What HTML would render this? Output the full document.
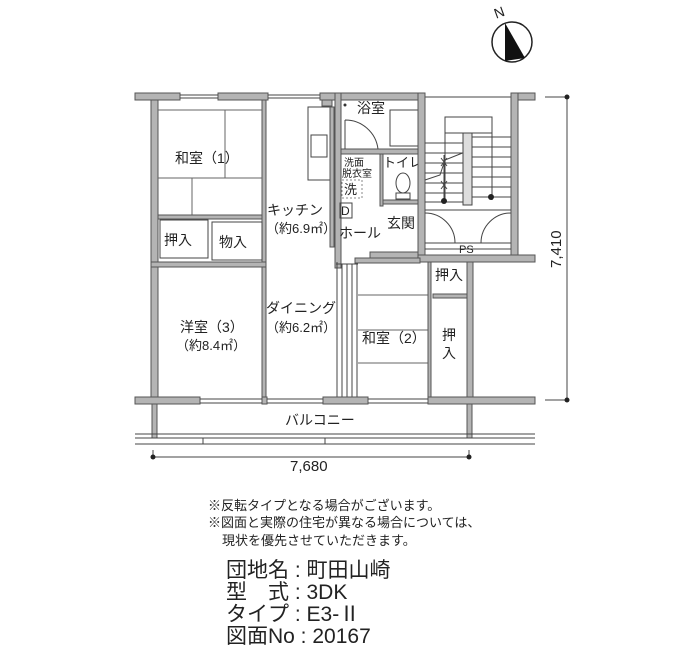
<!DOCTYPE html>
<html><head><meta charset="utf-8"><style>
html,body{margin:0;padding:0;background:#fff;}
svg{display:block;}
text{font-family:"Liberation Sans","Noto Sans CJK JP",sans-serif;fill:#222;}
.w{fill:#b4b4b4;stroke:#555;stroke-width:1;}
.l{stroke:#444;stroke-width:1;fill:none;}
.t{stroke:#666;stroke-width:1;fill:none;}
</style></head><body>
<svg width="700" height="650" viewBox="0 0 700 650" xmlns="http://www.w3.org/2000/svg">
<!-- compass -->
<text x="494" y="17" font-size="14" transform="rotate(-20 500 12)">N</text>
<circle cx="512" cy="42" r="20" fill="none" stroke="#222" stroke-width="1.5"/>
<polygon points="505,23 505,61 525,58" fill="#111"/>

<!-- top wall -->
<rect class="w" x="135" y="93" width="45" height="7"/>
<rect class="w" x="218" y="93" width="50" height="7"/>
<rect class="w" x="320" y="93" width="100" height="7"/>
<rect class="w" x="511" y="93" width="24" height="7"/>
<line class="l" x1="180" y1="95" x2="218" y2="95"/><line class="l" x1="180" y1="98" x2="218" y2="98"/>
<line class="l" x1="268" y1="95" x2="320" y2="95"/><line class="l" x1="268" y1="98" x2="320" y2="98"/>
<line class="l" x1="425" y1="97" x2="511" y2="97"/>
<rect class="w" x="151" y="100" width="7" height="297"/>
<rect class="w" x="262" y="100" width="4" height="300"/>
<line class="t" x1="158" y1="110" x2="262" y2="110"/>
<line class="t" x1="225" y1="110" x2="225" y2="178"/>
<line class="t" x1="158" y1="178" x2="262" y2="178"/>
<line class="t" x1="192" y1="178" x2="192" y2="215"/>
<rect class="w" x="158" y="215" width="104" height="4"/>
<rect class="l" x="160" y="220" width="48" height="38"/>
<rect class="l" x="212" y="222" width="50" height="38"/>
<text x="175" y="163" font-size="14">和室（1）</text>
<text x="164" y="245" font-size="14">押入</text>
<text x="219" y="247" font-size="14">物入</text>
<rect class="w" x="151" y="262" width="115" height="5"/>
<rect class="l" x="308" y="107" width="22" height="73"/>
<rect class="l" x="311" y="135" width="16" height="22"/>
<rect class="w" x="322" y="100" width="10" height="6"/>
<rect class="w" x="330" y="107" width="4" height="140"/>
<text x="267" y="215" font-size="14">キッチン</text>
<text x="266" y="233" font-size="13">（約6.9㎡）</text>
<rect class="w" x="335" y="93" width="6" height="175"/>
<rect class="w" x="341" y="149" width="84" height="5"/>
<rect class="l" x="390" y="110" width="30" height="36"/>
<path class="l" d="M345 120 A33 33 0 0 1 378 149 M345 120 L345 149"/>
<circle cx="345" cy="105" r="1.5" fill="#333"/>
<text x="357" y="113" font-size="14">浴室</text>
<rect class="w" x="380" y="154" width="3" height="52"/>
<text x="344" y="166" font-size="10">洗面</text>
<text x="342" y="177" font-size="10">脱衣室</text>
<rect x="342" y="180" width="20" height="18" fill="none" stroke="#888" stroke-dasharray="2,2"/>
<text x="344" y="194" font-size="13">洗</text>
<text x="383" y="167" font-size="13">トイレ</text>
<ellipse cx="403" cy="183" rx="7" ry="10" class="l"/>
<rect class="l" x="396" y="193" width="14" height="6"/>
<rect x="340" y="203" width="12" height="15" fill="none" stroke="#444"/>
<text x="341" y="215" font-size="12">D</text>
<rect class="w" x="383" y="200" width="42" height="4"/>
<text x="387" y="228" font-size="14">玄関</text>
<text x="339" y="238" font-size="14">ホール</text>
<rect class="w" x="370" y="252" width="55" height="6"/>
<rect class="w" x="418" y="93" width="7" height="169"/>
<rect class="w" x="511" y="93" width="7" height="169"/>
<rect class="w" x="418" y="255" width="117" height="7"/>
<rect class="l" x="445" y="117" width="47" height="16"/>
<line class="l" x1="445" y1="117" x2="445" y2="200"/>
<line class="l" x1="492" y1="117" x2="492" y2="200"/>
<g class="l">
<line x1="425" y1="143" x2="463" y2="143"/><line x1="425" y1="153" x2="463" y2="153"/>
<line x1="425" y1="163" x2="463" y2="163"/><line x1="425" y1="173" x2="463" y2="173"/>
<line x1="425" y1="183" x2="463" y2="183"/><line x1="425" y1="193" x2="463" y2="193"/>
<line x1="425" y1="202" x2="463" y2="202"/>
<line x1="472" y1="137" x2="511" y2="137"/><line x1="472" y1="147" x2="511" y2="147"/>
<line x1="472" y1="157" x2="511" y2="157"/><line x1="472" y1="167" x2="511" y2="167"/>
<line x1="472" y1="177" x2="511" y2="177"/><line x1="472" y1="187" x2="511" y2="187"/>
<line x1="472" y1="197" x2="511" y2="197"/>
<path d="M425 180 L440 175 L445 160 L465 152"/>
<path d="M441 158 l6 8 M447 158 l-6 8 M441 181 l6 8 M447 181 l-6 8"/>
<line x1="444" y1="155" x2="444" y2="200"/>
</g>
<rect x="463" y="133" width="9" height="72" fill="#ddd" stroke="#444"/>
<circle cx="444" cy="201" r="3" fill="#222"/>
<circle cx="491" cy="197" r="3" fill="#222"/>
<line class="l" x1="425" y1="210" x2="511" y2="210"/>
<path class="l" d="M425 213 A30 30 0 0 1 455 243 M511 213 A30 30 0 0 0 481 243"/>
<line class="l" x1="425" y1="243" x2="511" y2="243"/>
<line class="l" x1="425" y1="249" x2="511" y2="249"/>
<text x="459" y="253" font-size="11">PS</text>
<rect class="w" x="355" y="258" width="65" height="5"/>
<g class="l">
<line x1="337" y1="262" x2="337" y2="398"/><line x1="342" y1="264" x2="342" y2="398"/>
<line x1="347" y1="264" x2="347" y2="398"/><line x1="352" y1="264" x2="352" y2="398"/>
<line x1="357" y1="264" x2="357" y2="398"/><line x1="336" y1="264" x2="358" y2="264"/>
</g>
<line class="t" x1="358" y1="295" x2="430" y2="295"/>
<line class="t" x1="358" y1="330" x2="430" y2="330"/>
<line class="t" x1="358" y1="363" x2="430" y2="363"/>
<text x="362" y="343" font-size="14">和室（2）</text>
<rect class="w" x="428" y="262" width="3" height="136"/>
<rect class="w" x="433" y="294" width="35" height="4"/>
<rect class="w" x="467" y="262" width="6" height="140"/>
<text x="435" y="280" font-size="14">押入</text>
<text x="442" y="340" font-size="14">押</text>
<text x="442" y="358" font-size="14">入</text>
<text x="266" y="313" font-size="14">ダイニング</text>
<text x="266" y="332" font-size="13">（約6.2㎡）</text>
<text x="180" y="332" font-size="14">洋室（3）</text>
<text x="176" y="350" font-size="13">（約8.4㎡）</text>
<rect class="w" x="135" y="397" width="65" height="7"/>
<rect class="w" x="262" y="397" width="5" height="7"/>
<rect class="w" x="323" y="397" width="45" height="7"/>
<rect class="w" x="428" y="397" width="107" height="7"/>
<g class="l">
<line x1="200" y1="399" x2="262" y2="399"/><line x1="200" y1="403" x2="262" y2="403"/>
<line x1="267" y1="399" x2="323" y2="399"/><line x1="267" y1="403" x2="323" y2="403"/>
<line x1="368" y1="399" x2="428" y2="399"/><line x1="368" y1="403" x2="428" y2="403"/>
</g>
<rect class="w" x="152" y="404" width="5" height="34"/>
<rect class="w" x="467" y="404" width="5" height="34"/>
<text x="285" y="425" font-size="14">バルコニー</text>
<g class="l">
<line x1="135" y1="434" x2="535" y2="434"/>
<line x1="135" y1="438" x2="535" y2="438"/>
<line x1="135" y1="444" x2="535" y2="444"/>
<line x1="203" y1="438" x2="203" y2="444"/><line x1="325" y1="438" x2="325" y2="444"/>
</g>
<line class="l" x1="153" y1="457" x2="469" y2="457"/>
<line class="l" x1="153" y1="450" x2="153" y2="457"/><line class="l" x1="469" y1="450" x2="469" y2="457"/>
<circle cx="153" cy="457" r="2.5" fill="#222"/><circle cx="469" cy="457" r="2.5" fill="#222"/>
<text x="290" y="471" font-size="15">7,680</text>
<line class="l" x1="567" y1="97" x2="567" y2="400"/>
<line class="l" x1="545" y1="97" x2="567" y2="97"/><line class="l" x1="545" y1="400" x2="567" y2="400"/>
<circle cx="567" cy="97" r="2.5" fill="#222"/><circle cx="567" cy="400" r="2.5" fill="#222"/>
<text x="0" y="0" font-size="15" transform="translate(561 268) rotate(-90)">7,410</text>
<text x="208" y="510" font-size="13">※反転タイプとなる場合がございます。</text>
<text x="208" y="527" font-size="13">※図面と実際の住宅が異なる場合については、</text>
<text x="222" y="545" font-size="13">現状を優先させていただきます。</text>
<text x="226" y="577" font-size="21">団地名 : 町田山崎</text>
<text x="226" y="599" font-size="21">型　式 : 3DK</text>
<text x="226" y="621" font-size="21">タイプ : E3-Ⅱ</text>
<text x="226" y="643" font-size="21">図面No : 20167</text>
</svg>
</body></html>
